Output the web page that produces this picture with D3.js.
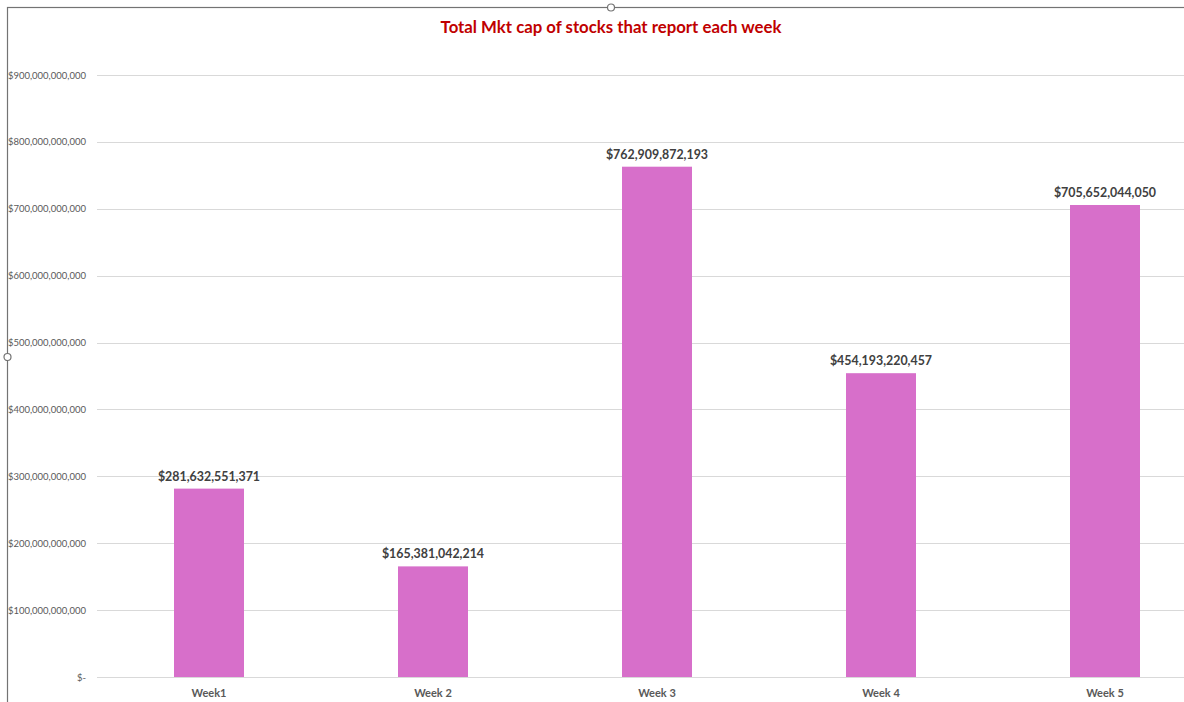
<!DOCTYPE html>
<html>
<head>
<meta charset="utf-8">
<script src="https://cdn.jsdelivr.net/npm/d3@7"></script>
<style>
  html, body { margin: 0; padding: 0; background: #fff; }
  svg { display: block; }
</style>
</head>
<body>
<svg id="chart" width="1184" height="702"></svg>
<script>
// Weekly total market capitalisation of reporting stocks
const weeks = ["Week1", "Week 2", "Week 3", "Week 4", "Week 5"];
const marketCap = [281632551371, 165381042214, 762909872193, 454193220457, 705652044050];
const yTicks = [0, 100e9, 200e9, 300e9, 400e9, 500e9, 600e9, 700e9, 800e9, 900e9];
const titleText = "Total Mkt cap of stocks that report each week";

const svg = d3.select("#chart");

// Chart frame (extends past the right and bottom edges of the view)
const frame = { left: 7.5, top: 7.5, right: 1215, bottom: 720 };
const plot = { left: 97, right: 1217, top: 75, bottom: 677 };

svg.append("rect")
  .attr("x", frame.left).attr("y", frame.top)
  .attr("width", frame.right - frame.left)
  .attr("height", frame.bottom - frame.top)
  .attr("fill", "#fff").attr("stroke", "#737373").attr("stroke-width", 1.2);

const x = d3.scaleBand().domain(weeks).range([plot.left, plot.right])
  .paddingInner(0.6875).paddingOuter(0.34375);
const y = d3.scaleLinear().domain([0, 900e9]).range([plot.bottom, plot.top]);

// Gridlines
svg.append("g").selectAll("line").data(yTicks).join("line")
  .attr("x1", plot.left).attr("x2", plot.right)
  .attr("y1", d => Math.round(y(d)) + 0.5).attr("y2", d => Math.round(y(d)) + 0.5)
  .attr("stroke", "#d9d9d9").attr("stroke-width", 1);

// Y axis labels
const fmt = d3.format(",.0f");
const yAxis = d3.axisLeft(y).tickValues(yTicks).tickSize(0).tickPadding(0)
  .tickFormat(d => d === 0 ? "$-" : "$" + fmt(d));
const gy = svg.append("g").attr("transform", `translate(${plot.left - 11},0)`).call(yAxis);
gy.select(".domain").remove();
gy.selectAll("text")
  .attr("fill", "#595959")
  .style("font-family", "Lato, 'Open Sans', sans-serif")
  .style("font-size", "9.5px");

// Bars
svg.append("g").selectAll("rect").data(marketCap).join("rect")
  .attr("x", (d, i) => x(weeks[i]))
  .attr("width", x.bandwidth())
  .attr("y", d => y(d))
  .attr("height", d => y(0) - y(d))
  .attr("fill", "#d76fca");

// Value labels
svg.append("g").selectAll("text").data(marketCap).join("text")
  .attr("x", (d, i) => x(weeks[i]) + x.bandwidth() / 2)
  .attr("y", d => y(d) - 8)
  .attr("text-anchor", "middle")
  .attr("fill", "#404040")
  .style("font-family", "Lato, 'Open Sans', sans-serif")
  .style("font-weight", "bold")
  .style("font-size", "12.4px")
  .text(d => "$" + fmt(d));

// Category axis
const xAxis = d3.axisBottom(x).tickSize(0).tickPadding(0);
const gx = svg.append("g").attr("transform", `translate(0,${plot.bottom + 12})`).call(xAxis);
gx.select(".domain").remove();
gx.selectAll("text")
  .attr("fill", "#595959")
  .style("font-family", "Lato, 'Open Sans', sans-serif")
  .style("font-weight", "bold")
  .style("font-size", "11px");

// Title
svg.append("text")
  .attr("x", 611).attr("y", 33)
  .attr("text-anchor", "middle")
  .attr("fill", "#c00000")
  .style("font-family", "Lato, 'Open Sans', sans-serif")
  .style("font-weight", "bold")
  .style("font-size", "16.8px")
  .text(titleText);

// Selection handles on the frame
[[611, frame.top], [frame.left, 357]].forEach(([cx, cy]) => {
  svg.append("circle").attr("cx", cx).attr("cy", cy).attr("r", 3.5)
    .attr("fill", "#fff").attr("stroke", "#737373").attr("stroke-width", 1.2);
});
</script>
</body>
</html>
